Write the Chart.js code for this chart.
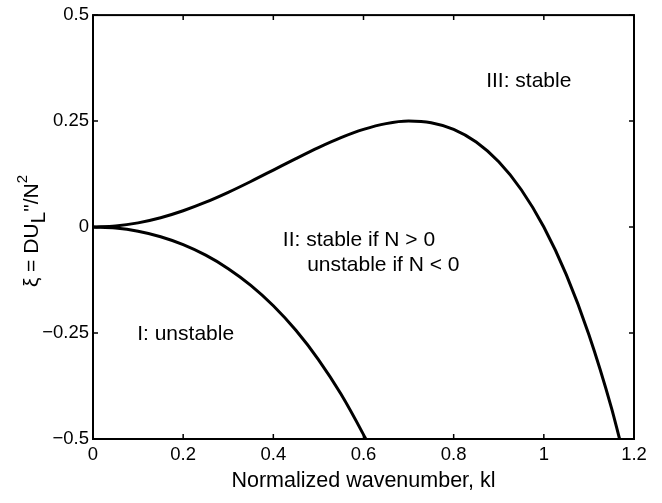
<!DOCTYPE html>
<html>
<head>
<meta charset="utf-8">
<script src="https://cdn.jsdelivr.net/npm/chart.js@4/dist/chart.umd.min.js"></script>
<style>
  html, body { margin: 0; padding: 0; background: #fff; }
  #wrap { width: 662px; height: 503px; }
</style>
</head>
<body>
<div id="wrap"><canvas id="chart"></canvas></div>
<script>
// values
const upperK  = [0, 0.05, 0.1, 0.15, 0.2, 0.25, 0.3, 0.35, 0.4, 0.45, 0.5, 0.55, 0.6, 0.65, 0.7, 0.75, 0.8, 0.85, 0.9, 0.95, 1.0, 1.05, 1.1, 1.15, 1.168];
const upperXi = [0, 0.0025, 0.0099, 0.022, 0.0384, 0.0586, 0.0819, 0.1075, 0.1344, 0.1615, 0.1875, 0.211, 0.2304, 0.244, 0.2499, 0.2461, 0.2304, 0.2005, 0.1539, 0.088, 0, -0.113, -0.2541, -0.4265, -0.5];
const lowerK  = [0, 0.05, 0.1, 0.15, 0.2, 0.25, 0.3, 0.35, 0.4, 0.45, 0.5, 0.55, 0.6, 0.605];
const lowerXi = [0, -0.0025, -0.0101, -0.023, -0.0416, -0.0664, -0.0981, -0.1375, -0.1856, -0.2435, -0.3125, -0.394, -0.4896, -0.5];

const xTicks = [0, 0.2, 0.4, 0.6, 0.8, 1, 1.2];
const xTickLabels = ['0', '0.2', '0.4', '0.6', '0.8', '1', '1.2'];
const yTicks = [-0.5, -0.25, 0, 0.25, 0.5];
const yTickLabels = ['\u22120.5', '\u22120.25', '0', '0.25', '0.5'];

const regionLabels = [
  { text: 'III: stable', k: 0.872, xi: 0.331 },
  { text: 'II: stable if N > 0', k: 0.421, xi: -0.0446 },
  { text: 'unstable if N < 0', k: 0.475, xi: -0.1033 },
  { text: 'I: unstable', k: 0.098, xi: -0.2676 }
];

const FONT = '"Liberation Sans", Arial, Helvetica, sans-serif';

function toPoints(xs, ys) {
  return xs.map((x, i) => ({ x: x, y: ys[i] }));
}

// box, inward ticks, axis titles and region labels
const decor = {
  id: 'decor',
  afterDraw(chart) {
    const ctx = chart.ctx;
    const a = chart.chartArea;
    const xs = chart.scales.x, ys = chart.scales.y;
    ctx.save();
    ctx.strokeStyle = '#000';
    ctx.lineWidth = 2;
    ctx.strokeRect(a.left, a.top, a.right - a.left, a.bottom - a.top);
    ctx.lineWidth = 1.5;
    ctx.beginPath();
    xTicks.forEach(v => {
      const p = xs.getPixelForValue(v);
      ctx.moveTo(p, a.bottom); ctx.lineTo(p, a.bottom - 5);
      ctx.moveTo(p, a.top); ctx.lineTo(p, a.top + 5);
    });
    yTicks.forEach(v => {
      const p = ys.getPixelForValue(v);
      ctx.moveTo(a.left, p); ctx.lineTo(a.left + 5, p);
      ctx.moveTo(a.right, p); ctx.lineTo(a.right - 5, p);
    });
    ctx.stroke();

    ctx.fillStyle = '#000';
    ctx.font = '21px ' + FONT;
    ctx.textBaseline = 'alphabetic';
    ctx.textAlign = 'left';
    regionLabels.forEach(l => {
      ctx.fillText(l.text, xs.getPixelForValue(l.k), ys.getPixelForValue(l.xi));
    });

    // x title
    ctx.textAlign = 'center';
    ctx.font = '21.5px ' + FONT;
    ctx.fillText('Normalized wavenumber, kl', (a.left + a.right) / 2, 487);

    // y title: ξ = DU_L''/N^2
    ctx.translate(38, (a.top + a.bottom) / 2 + 4);
    ctx.rotate(-Math.PI / 2);
    const parts = [
      { t: '\u03BE = DU', size: 21, dy: 0 },
      { t: 'L', size: 21, dy: 7 },
      { t: '"/N', size: 21, dy: 0 },
      { t: '2', size: 15, dy: -11 }
    ];
    let total = 0;
    parts.forEach(p => { ctx.font = p.size + 'px ' + FONT; total += ctx.measureText(p.t).width; });
    let x = -total / 2;
    ctx.textAlign = 'left';
    parts.forEach(p => {
      ctx.font = p.size + 'px ' + FONT;
      ctx.fillText(p.t, x, p.dy);
      x += ctx.measureText(p.t).width;
    });
    ctx.restore();
  }
};

new Chart(document.getElementById('chart'), {
  type: 'line',
  data: {
    datasets: [
      { data: toPoints(upperK, upperXi), borderColor: '#000', borderWidth: 3, pointRadius: 0, fill: false, cubicInterpolationMode: 'monotone' },
      { data: toPoints(lowerK, lowerXi), borderColor: '#000', borderWidth: 3, pointRadius: 0, fill: false, cubicInterpolationMode: 'monotone' }
    ]
  },
  options: {
    responsive: true,
    maintainAspectRatio: false,
    animation: false,
    layout: { padding: { top: 13, right: 28, left: 0, bottom: 0 } },
    plugins: { legend: { display: false }, tooltip: { enabled: false } },
    scales: {
      x: {
        type: 'linear', min: 0, max: 1.2,
        grid: { display: false, drawTicks: false }, border: { display: false },
        afterBuildTicks: s => { s.ticks = xTicks.map(v => ({ value: v })); },
        afterFit: s => { s.height = 64; },
        ticks: {
          padding: 5, color: '#000', font: { family: FONT, size: 18.5 },
          maxRotation: 0, autoSkip: false,
          callback: (v) => xTickLabels[xTicks.indexOf(v)]
        }
      },
      y: {
        type: 'linear', min: -0.5, max: 0.5,
        grid: { display: false, drawTicks: false }, border: { display: false },
        afterBuildTicks: s => { s.ticks = yTicks.map(v => ({ value: v })); },
        afterFit: s => { s.width = 93; },
        ticks: {
          padding: 4, color: '#000', font: { family: FONT, size: 18.5 },
          autoSkip: false,
          callback: (v) => yTickLabels[yTicks.indexOf(v)]
        }
      }
    }
  },
  plugins: [decor]
});
</script>
</body>
</html>
